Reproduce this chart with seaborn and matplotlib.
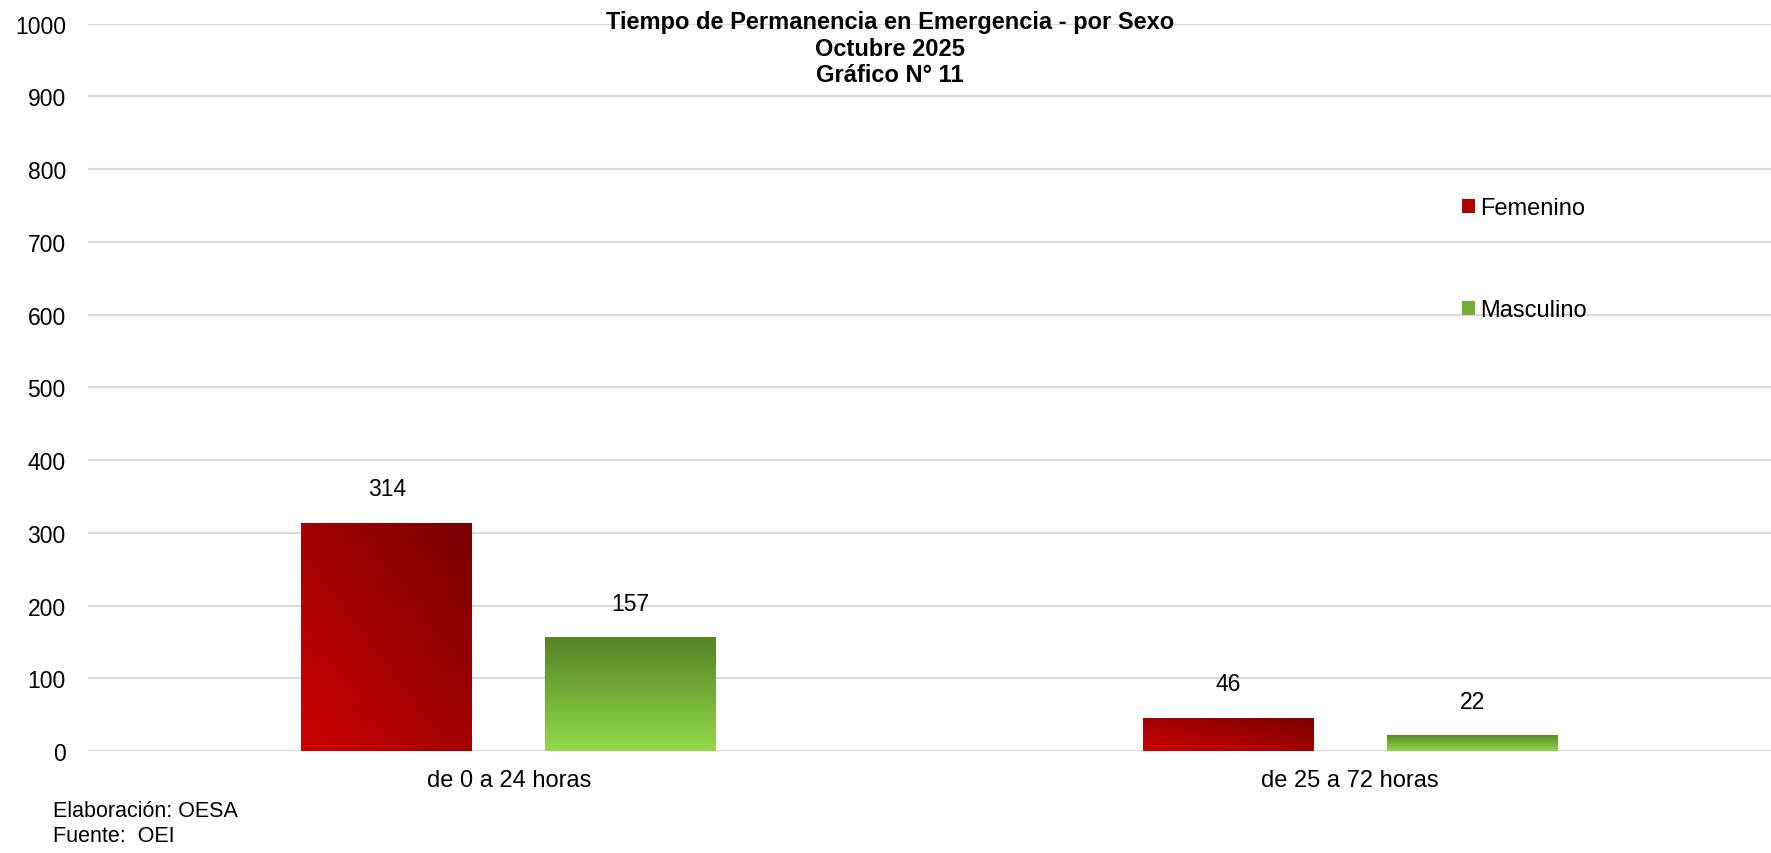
import matplotlib
matplotlib.use('Agg')

import numpy as np
import pandas as pd
import matplotlib.pyplot as plt
import seaborn as sns
from matplotlib.colors import LinearSegmentedColormap
from matplotlib.patches import Patch

# === Datos ===
categorias = ["de 0 a 24 horas", "de 25 a 72 horas"]
sexos = ["Femenino", "Masculino"]
femenino = [314, 46]
masculino = [157, 22]

df = pd.DataFrame({
    "Categoria": categorias * 2,
    "Sexo": [sexos[0]] * len(categorias) + [sexos[1]] * len(categorias),
    "Valor": femenino + masculino,
})

sns.set_theme(style="white")
plt.rcParams['font.family'] = ['Liberation Sans', 'DejaVu Sans']
plt.rcParams['text.color'] = 'black'

fig = plt.figure(figsize=(17.71, 8.54), dpi=100)
ax = fig.add_axes([0.0497, 0.1194, 0.9503, 0.8519])

sns.barplot(data=df, x="Categoria", y="Valor", hue="Sexo", hue_order=sexos,
            palette=["#B00000", "#74AE38"], width=0.58, gap=0.3,
            legend=False, ax=ax, zorder=3)

ax.set_xlim(-0.5, 1.5)
ax.set_ylim(0, 1000)
ax.set_yticks(range(0, 1001, 100))
ax.grid(axis='y', color='#D9D9D9', linewidth=1.5, zorder=0)
ax.set_axisbelow(True)
for s in ax.spines.values():
    s.set_visible(False)
ax.tick_params(axis='both', length=0, colors='black')
ax.tick_params(axis='y', pad=16, labelsize=16.5)
ax.tick_params(axis='x', pad=13, labelsize=17)
ax.set_xlabel("")
ax.set_ylabel("")

# === Rellenos con degradado ===
rojo = LinearSegmentedColormap.from_list("rojo", ["#CC0000", "#780000"])
verde = LinearSegmentedColormap.from_list("verde", ["#93D94B", "#548426"])
n = 200
u, v = np.meshgrid(np.linspace(0, 1, n), np.linspace(0, 1, n))
grad_diag = (u + v) / 2
grad_vert = v

for cont, cmap, grad in zip(ax.containers, [rojo, verde], [grad_diag, grad_vert]):
    for bar in cont:
        x0, y0 = bar.get_x(), bar.get_y()
        w, h = bar.get_width(), bar.get_height()
        im = ax.imshow(grad, cmap=cmap, vmin=0, vmax=1, origin='lower', aspect='auto',
                       extent=[x0, x0 + w, y0, y0 + h], zorder=3, interpolation='bilinear')
        im.set_clip_path(bar)
        bar.set_facecolor('none')
        bar.set_edgecolor('none')
    ax.bar_label(cont, fmt='{:.0f}', padding=16, fontsize=16.5, color='black')

ax.set_xlim(-0.5, 1.5)
ax.set_ylim(0, 1000)

# === Leyenda ===
handles = [Patch(facecolor="#AE0000", edgecolor='none'),
           Patch(facecolor="#74AE38", edgecolor='none')]
fig.legend(handles, sexos, loc='upper left', bbox_to_anchor=(0.819, 0.782),
           frameon=False, fontsize=17, handlelength=0.55, handleheight=0.55,
           handletextpad=0.2, labelspacing=3.4, borderpad=0)

# === Títulos ===
fig.text(0.5025, 0.9735, "Tiempo de Permanencia en Emergencia - por Sexo",
         ha='center', va='center', fontsize=17, fontweight='bold')
fig.text(0.5025, 0.9418, "Octubre 2025",
         ha='center', va='center', fontsize=17, fontweight='bold')
fig.text(0.5025, 0.9114, "Gráfico N° 11",
         ha='center', va='center', fontsize=17, fontweight='bold')

# === Pie ===
fig.text(0.03, 0.050, "Elaboración: OESA", ha='left', va='center', fontsize=15.5)
fig.text(0.03, 0.008, "Fuente:  OEI", ha='left', va='bottom', fontsize=15.5)

fig.savefig("out.png", dpi=100)
plt.close(fig)
